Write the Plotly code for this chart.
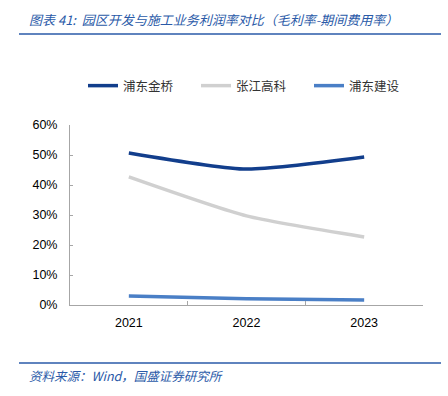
import plotly.graph_objects as go

years = ["2021", "2022", "2023"]
jinqiao = [0.507, 0.453, 0.493]
zhangjiang = [0.427, 0.297, 0.227]
jianshe = [0.030, 0.021, 0.017]
series_names = ["浦东金桥", "张江高科", "浦东建设"]
colors = ["#123E8C", "#D0D0D0", "#4A7FC6"]

W, H = 448, 396
L, R, T, B = 70, 423, 125, 305

def px(x):
    return (x - L) / (R - L)

def py(y):
    return (B - y) / (B - T)

fig = go.Figure()
for name, vals, c in zip(series_names, [jinqiao, zhangjiang, jianshe], colors):
    fig.add_trace(go.Scatter(x=years, y=vals, name=name, mode="lines",
                             line=dict(color=c, width=3.5, shape="spline", smoothing=0.6)))

cjk = "Noto Sans CJK SC"
fig.update_layout(
    width=W, height=H,
    margin=dict(l=L, r=W - R, t=T, b=H - B),
    plot_bgcolor="white", paper_bgcolor="white",
    showlegend=True,
    legend=dict(orientation="h", x=px(83), y=py(86), xanchor="left", yanchor="middle",
                font=dict(family=cjk, size=12.5, color="#333333"),
                entrywidth=68, entrywidthmode="pixels",
                tracegroupgap=0, bgcolor="rgba(0,0,0,0)"),
    xaxis=dict(type="category", tickson="boundaries", ticks="inside", ticklen=4,
               tickcolor="#A6A6A6", showline=True, linecolor="#A6A6A6", linewidth=1,
               showgrid=False, ticklabelstandoff=6,
               tickfont=dict(family="Liberation Sans", size=12.5, color="#000000"),
               range=[-0.5, 2.5]),
    yaxis=dict(range=[0, 0.6], dtick=0.1, tickformat=".0%", ticks="inside", ticklen=3,
               tickcolor="#A6A6A6", showline=True, linecolor="#A6A6A6", linewidth=1,
               showgrid=False, zeroline=False, ticklabelstandoff=9,
               tickfont=dict(family="Liberation Sans", size=12.5, color="#000000")),
)

# header line and footer line
fig.add_shape(type="line", xref="paper", yref="paper", x0=px(19), x1=px(441), y0=py(34), y1=py(34),
              line=dict(color="#2A5AA8", width=1.5))
fig.add_shape(type="line", xref="paper", yref="paper", x0=px(19), x1=px(441), y0=py(363), y1=py(363),
              line=dict(color="#2A5AA8", width=1.5))

fig.add_annotation(xref="paper", yref="paper", x=px(27), y=py(19), xanchor="left", yanchor="middle",
                   showarrow=False,
                   text="<i>图表 41:  园区开发与施工业务利润率对比（毛利率-期间费用率）</i>",
                   font=dict(family=cjk, size=13, color="#2A5AA8"))
fig.add_annotation(xref="paper", yref="paper", x=px(27), y=py(375), xanchor="left", yanchor="middle",
                   showarrow=False,
                   text="<i>资料来源：Wind，国盛证券研究所</i>",
                   font=dict(family=cjk, size=12.5, color="#2A5AA8"))

fig.write_html("out.html", config={"displayModeBar": False},
               post_script="document.body.style.margin='0px';")
